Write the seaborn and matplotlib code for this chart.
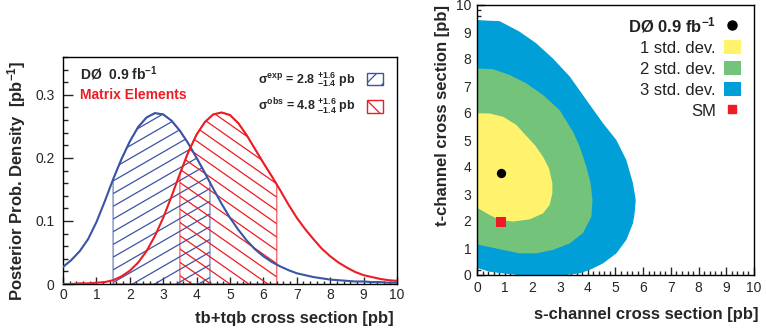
import numpy as np
import pandas as pd
import matplotlib
matplotlib.use("Agg")
import matplotlib.pyplot as plt
import seaborn as sns
from matplotlib.patches import Polygon, Patch
from matplotlib.lines import Line2D
from matplotlib.collections import LineCollection
from matplotlib.ticker import MultipleLocator, FuncFormatter

# ---------------- data ----------------
xsec = np.linspace(0, 10, 41)  # sample grid, pb
post_expected = [0.027, 0.038, 0.052, 0.071, 0.098, 0.131, 0.166, 0.198, 0.226, 0.249,
                 0.264, 0.271, 0.269, 0.259, 0.243, 0.223, 0.200, 0.176, 0.151, 0.127,
                 0.105, 0.086, 0.069, 0.055, 0.044, 0.035, 0.028, 0.022, 0.017, 0.014,
                 0.011, 0.009, 0.007, 0.006, 0.005, 0.004, 0.004, 0.003, 0.003, 0.002, 0.002]
post_observed = [0.000, 0.000, 0.001, 0.001, 0.002, 0.003, 0.006, 0.012, 0.021, 0.034,
                 0.052, 0.076, 0.105, 0.139, 0.175, 0.209, 0.237, 0.257, 0.269, 0.272,
                 0.268, 0.255, 0.236, 0.214, 0.192, 0.171, 0.149, 0.126, 0.105, 0.087,
                 0.071, 0.056, 0.044, 0.034, 0.026, 0.019, 0.014, 0.011, 0.008, 0.006, 0.005]
exp_band = (1.5, 4.4)
obs_band = (3.5, 6.4)

# 2D contours: (s-channel, t-channel) boundary points
sd3_s = [0.00, 0.00, 0.82, 1.54, 2.14, 2.74, 3.35, 3.95, 4.55, 5.03, 5.39, 5.63, 5.73, 5.69,
         5.63, 5.39, 5.03, 4.55, 4.07, 3.71, 3.20, 1.50, 0.94, 0.46, 0.04]
sd3_t = [0.25, 9.44, 9.40, 9.01, 8.58, 8.02, 7.35, 6.48, 5.62, 5.00, 4.26, 3.40, 2.78, 2.28,
         1.91, 1.30, 0.80, 0.43, 0.19, 0.06, 0.00, 0.00, 0.06, 0.12, 0.25]
sd2_s = [0.00, 0.00, 0.58, 1.18, 1.78, 2.38, 2.98, 3.47, 3.71, 3.95, 4.10, 4.17, 4.13,
         3.83, 3.35, 2.74, 2.14, 1.54, 0.94, 0.10]
sd2_t = [1.15, 7.65, 7.62, 7.41, 7.10, 6.67, 6.11, 5.30, 4.75, 4.00, 3.40, 2.78, 2.16,
         1.56, 1.17, 0.93, 0.80, 0.80, 0.93, 1.11]
sd1_s = [0.00, 0.00, 0.46, 0.94, 1.42, 1.78, 2.10, 2.40, 2.60, 2.72, 2.72, 2.62, 2.38,
         1.90, 1.30, 0.80, 0.46, 0.04]
sd1_t = [2.50, 5.99, 5.98, 5.86, 5.56, 5.15, 4.80, 4.35, 3.95, 3.40, 3.02, 2.59, 2.28,
         2.06, 1.98, 2.05, 2.22, 2.47]
meas_s, meas_t = [0.88], [3.77]
sm_s, sm_t = [0.88], [1.98]

BLUE = "#3a54a4"
RED = "#ed1c24"
YELLOW = "#fff36e"
GREEN = "#74c37a"
CYAN = "#009fd7"

# ---------------- style ----------------
sns.set_theme(style="ticks")
plt.rcParams["font.family"] = ["Liberation Sans", "DejaVu Sans"]
plt.rcParams["mathtext.fontset"] = "custom"
plt.rcParams["mathtext.rm"] = "Liberation Sans"
plt.rcParams["mathtext.bf"] = "Liberation Sans:bold"
plt.rcParams["mathtext.it"] = "Liberation Sans:italic"
plt.rcParams["mathtext.sf"] = "Liberation Sans"
plt.rcParams["hatch.linewidth"] = 0.9
plt.rcParams["axes.edgecolor"] = "black"
plt.rcParams["axes.linewidth"] = 1.0

W, H = 766, 335
fig = plt.figure(figsize=(W / 100, H / 100), dpi=100)
ax1 = fig.add_axes([63 / W, 1 - 284 / H, (397 - 63) / W, (284 - 57) / H])
ax2 = fig.add_axes([477 / W, 1 - 275 / H, (754 - 477) / W, (275 - 5) / H])

# ---------------- left panel ----------------
ax1.set_xlim(0, 10)
ax1.set_ylim(0, 0.36)


def hatch_region(ax, xs, ys, lo, hi, color, angle, spacing_px):
    xs = np.asarray(xs, float)
    ys = np.asarray(ys, float)
    m = (xs > lo) & (xs < hi)
    px = np.concatenate([[lo, lo], xs[m], [hi, hi]])
    py = np.concatenate([[0, np.interp(lo, xs, ys)], ys[m], [np.interp(hi, xs, ys), 0]])
    poly = Polygon(np.column_stack([px, py]), closed=True, facecolor="none",
                   edgecolor=color, lw=1.0, alpha=0.65, zorder=2)
    ax.add_patch(poly)
    bb = ax.get_window_extent()
    x0, x1 = ax.get_xlim()
    y0, y1 = ax.get_ylim()
    sx = bb.width / (x1 - x0)
    sy = bb.height / (y1 - y0)
    slope = np.tan(np.radians(angle)) * sx / sy
    dy = spacing_px / sy
    span = slope * (hi - lo)
    cs = np.arange(min(0, -span) - 0.05, 0.4 + max(0, -span), dy)
    segs = [[(lo, c), (hi, c + span)] for c in cs]
    lc = LineCollection(segs, colors=color, linewidths=0.9, zorder=2)
    ax.add_collection(lc)
    lc.set_clip_path(poly)


hatch_region(ax1, xsec, post_expected, *exp_band, BLUE, 30, 12.7)
hatch_region(ax1, xsec, post_observed, *obs_band, RED, -35, 13.3)

df = pd.DataFrame({"x": np.concatenate([xsec, xsec]),
                   "y": post_expected + post_observed,
                   "s": ["exp"] * len(xsec) + ["obs"] * len(xsec)})
sns.lineplot(data=df, x="x", y="y", hue="s", palette={"exp": BLUE, "obs": RED},
             lw=1.5, ax=ax1, legend=False, zorder=3)
for ln in ax1.get_lines():
    ln.set_solid_joinstyle("round")

ax1.xaxis.set_major_locator(MultipleLocator(1))
ax1.xaxis.set_minor_locator(MultipleLocator(0.2))
ax1.yaxis.set_major_locator(MultipleLocator(0.1))
ax1.yaxis.set_minor_locator(MultipleLocator(0.02))
ax1.yaxis.set_major_formatter(FuncFormatter(lambda v, p: "0" if abs(v) < 1e-9 else f"{v:.1f}"))
ax1.tick_params(axis="x", which="major", direction="in", length=5, width=1, pad=3, labelsize=10)
ax1.tick_params(axis="x", which="minor", direction="in", length=2.5, width=1)
ax1.tick_params(axis="y", which="major", direction="in", length=7, width=1, pad=6, labelsize=10)
ax1.tick_params(axis="y", which="minor", direction="in", length=3.5, width=1)
for sp in ax1.spines.values():
    sp.set_visible(True)
    sp.set_color("black")

ax1.set_xlabel("tb+tqb cross section [pb]", fontsize=12, fontweight="bold", loc="right")
ax1.xaxis.set_label_coords(0.99, -0.12)
ax1.set_ylabel(r"Posterior Prob. Density  [pb$^{\mathbf{-1}}$]", fontsize=12,
               fontweight="bold", loc="top")
ax1.yaxis.set_label_coords(-0.105, 0.985)

ax1.text(0.051, 0.925, r"DØ  0.9 fb$^{\mathbf{-1}}$", transform=ax1.transAxes,
         fontsize=10, fontweight="bold", va="center", ha="left")
ax1.text(0.051, 0.833, "Matrix Elements", transform=ax1.transAxes, color=RED,
         fontsize=10, fontweight="bold", va="center", ha="left")

h_exp = Patch(facecolor="none", edgecolor=BLUE, hatch="//", lw=1.0)
h_obs = Patch(facecolor="none", edgecolor=RED, hatch="\\\\", lw=1.0)
leg1 = ax1.legend([h_exp, h_obs],
                  [r"σ$^{\mathbf{exp}}$ = 2.8 $^{\mathbf{+1.6}}_{\mathbf{-1.4}}$ pb",
                   r"σ$^{\mathbf{obs}}$ = 4.8 $^{\mathbf{+1.6}}_{\mathbf{-1.4}}$ pb"],
                  loc="upper right", bbox_to_anchor=(0.978, 0.97), frameon=False,
                  markerfirst=False, borderpad=0, handlelength=1.35, handleheight=1.2,
                  handletextpad=0.9, labelspacing=0.65,
                  prop={"size": 9, "weight": "bold", "family": "Liberation Sans"})

# ---------------- right panel ----------------
ax2.set_xlim(0, 10)
ax2.set_ylim(0, 10)
ax2.fill(sd3_s, sd3_t, color=CYAN, lw=0, zorder=1)
ax2.fill(sd2_s, sd2_t, color=GREEN, lw=0, zorder=1)
ax2.fill(sd1_s, sd1_t, color=YELLOW, lw=0, zorder=1)
sns.scatterplot(x=meas_s, y=meas_t, color="black", marker="o", s=45, linewidth=0,
                ax=ax2, zorder=4)
sns.scatterplot(x=sm_s, y=sm_t, color=RED, marker="s", s=48, linewidth=0,
                ax=ax2, zorder=4)

ax2.xaxis.set_major_locator(MultipleLocator(1))
ax2.xaxis.set_minor_locator(MultipleLocator(0.2))
ax2.yaxis.set_major_locator(MultipleLocator(1))
ax2.yaxis.set_minor_locator(MultipleLocator(0.2))
ax2.tick_params(axis="both", which="major", direction="in", length=6, width=1, pad=4,
                labelsize=10)
ax2.tick_params(axis="both", which="minor", direction="in", length=3, width=1)
for sp in ax2.spines.values():
    sp.set_visible(True)
    sp.set_color("black")

ax2.set_xlabel("s-channel cross section [pb]", fontsize=12, fontweight="bold", loc="right")
ax2.xaxis.set_label_coords(1.015, -0.12)
ax2.set_ylabel("t-channel cross section [pb]", fontsize=12, fontweight="bold", loc="top")
ax2.yaxis.set_label_coords(-0.098, 1.0)

handles2 = [Line2D([], [], ls="", marker="o", color="black", markersize=6.5),
            Patch(facecolor=YELLOW, edgecolor="none"),
            Patch(facecolor=GREEN, edgecolor="none"),
            Patch(facecolor=CYAN, edgecolor="none"),
            Line2D([], [], ls="", marker="s", color=RED, markersize=6)]
labels2 = [r"DØ 0.9 fb$^{\mathbf{-1}}$", "1 std. dev.", "2 std. dev.", "3 std. dev.", "SM"]
leg2 = ax2.legend(handles2, labels2, loc="upper right", bbox_to_anchor=(0.982, 0.995),
                  frameon=False, markerfirst=False, borderpad=0, handlelength=1.0,
                  handleheight=0.9, handletextpad=0.5, labelspacing=0.32,
                  prop={"size": 12, "family": "Liberation Sans"})
for i, t in enumerate(leg2.get_texts()):
    t.set_color("#222222")
    if i == 0:
        t.set_fontweight("bold")

fig.savefig("out.png", dpi=100)
